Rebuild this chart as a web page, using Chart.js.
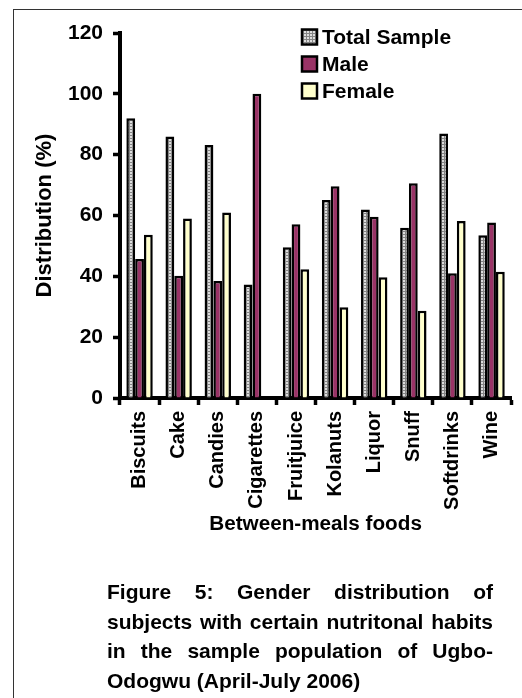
<!DOCTYPE html>
<html>
<head>
<meta charset="utf-8">
<script src="https://cdn.jsdelivr.net/npm/chart.js@4"></script>
<style>
  html, body { margin: 0; padding: 0; background: #fff; overflow: hidden; }
  body { width: 522px; height: 698px; position: relative; }
  #frame { position: absolute; left: 13px; top: 9px; width: 600px; height: 800px;
           border-left: 1.5px solid #333; border-top: 1.5px solid #333; }
  #chart { position: absolute; left: 0; top: 0; }
  #caption { position: absolute; left: 107px; top: 577px; width: 386px;
             font-family: "Liberation Sans", Arial, sans-serif; font-weight: bold;
             font-size: 21px; line-height: 29.5px; color: #000;
             text-align: justify; text-align-last: left; }
</style>
</head>
<body>
<div id="frame"></div>
<canvas id="chart" width="522" height="698"></canvas>
<div id="caption">Figure 5: Gender distribution of subjects with certain nutritonal habits in the sample population of Ugbo-Odogwu (April-July 2006)</div>
<script>
const foods = ['Biscuits', 'Cake', 'Candies', 'Cigarettes', 'Fruitjuice', 'Kolanuts', 'Liquor', 'Snuff', 'Softdrinks', 'Wine'];
const totalSample = [92, 86, 83.2, 37.3, 49.6, 65.1, 62, 56, 87, 53.5];
const male = [45.7, 40.2, 38.5, 100, 57.1, 69.6, 59.6, 70.6, 41, 57.7];
const female = [53.7, 59, 61, 0, 42.3, 29.8, 39.7, 28.7, 58.2, 41.5];
const yTicks = [0, 20, 40, 60, 80, 100, 120];

const FONT = '"Liberation Sans", Arial, sans-serif';
Chart.defaults.font.family = FONT;
Chart.defaults.color = '#000';

// grey checkered fill for the "Total Sample" bars
function makePattern() {
    const c = document.createElement('canvas');
    c.width = 3; c.height = 3;
    const g = c.getContext('2d');
    g.fillStyle = '#dcdcdc';
    g.fillRect(0, 0, 3, 3);
    g.fillStyle = '#858585';
    g.fillRect(0, 0, 3, 1);
    g.fillRect(0, 0, 1, 3);
    return g.createPattern(c, 'repeat');
}

// legend drawn inside the plot, top right
const boxLegend = {
    id: 'boxLegend',
    afterDraw(chart) {
        const ctx = chart.ctx;
        ctx.save();
        ctx.font = 'bold 21px ' + FONT;
        ctx.textBaseline = 'middle';
        chart.data.datasets.forEach((ds, i) => {
            const y = 37 + i * 27;
            ctx.fillStyle = ds.backgroundColor;
            ctx.fillRect(302, y - 7.5, 15, 15);
            ctx.strokeStyle = '#000';
            ctx.lineWidth = 2.5;
            ctx.strokeRect(302, y - 7.5, 15, 15);
            ctx.fillStyle = '#000';
            ctx.fillText(ds.label, 322, y + 1);
        });
        ctx.restore();
    }
};

const ctx = document.getElementById('chart').getContext('2d');
const chart = new Chart(ctx, {
    type: 'bar',
    data: {
        labels: foods,
        datasets: [
            { label: 'Total Sample', data: totalSample, backgroundColor: makePattern(), borderColor: '#000', borderWidth: 2.5 },
            { label: 'Male', data: male, backgroundColor: '#993366', borderColor: '#000', borderWidth: 2.5 },
            { label: 'Female', data: female, backgroundColor: '#ffffcc', borderColor: '#000', borderWidth: 2.5 }
        ]
    },
    options: {
        responsive: false,
        animation: false,
        datasets: { bar: { categoryPercentage: 0.675, barPercentage: 1.0 } },
        layout: { padding: { top: 33, right: 9, bottom: 160, left: 0 } },
        plugins: { legend: { display: false }, tooltip: { enabled: false } },
        scales: {
            x: {
                grid: { display: true, drawOnChartArea: false, tickLength: 7, tickWidth: 3.5, tickColor: '#000', offset: true },
                border: { display: true, color: '#000', width: 4 },
                ticks: { font: { size: 20, weight: 'bold' }, minRotation: 90, maxRotation: 90, padding: 6, autoSkip: false },
                title: { display: true, text: 'Between-meals foods', font: { size: 20.7, weight: 'bold' }, padding: { top: 0, bottom: 1 } },
                afterFit(s) { s.height = 140; }
            },
            y: {
                min: yTicks[0],
                max: yTicks[yTicks.length - 1],
                afterBuildTicks(s) { s.ticks = yTicks.map(v => ({ value: v })); },
                grid: { display: true, drawOnChartArea: false, tickLength: 7, tickWidth: 3.5, tickColor: '#000' },
                border: { display: true, color: '#000', width: 4 },
                ticks: { font: { size: 21, weight: 'bold' }, padding: 10 },
                title: { display: true, text: 'Distribution (%)', font: { size: 22, weight: 'bold' }, padding: { top: 32, bottom: 0 } },
                afterFit(s) { s.width = 120; }
            }
        }
    },
    plugins: [boxLegend]
});
</script>
</body>
</html>
